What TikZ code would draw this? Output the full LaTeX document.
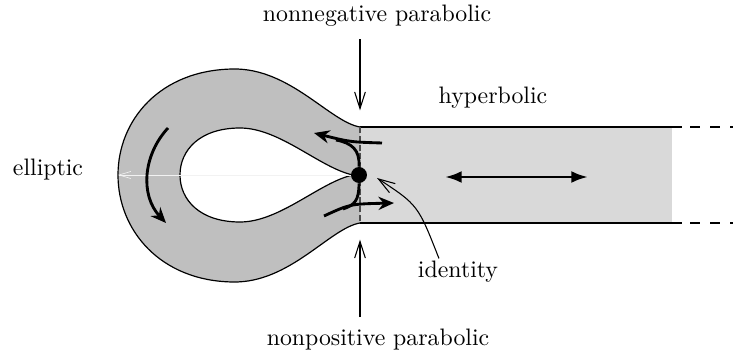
\documentclass[tikz,border=0pt]{standalone}
\usepackage{tikz}
\usetikzlibrary{arrows.meta}

\tikzset{
  thinarrow/.style={line width=0.45pt,-{Straight Barb[length=7pt,width=4.5pt]}},
  flowline/.style={line width=1.2pt},
  flowarrow/.style={line width=1.2pt,-{Stealth[length=6.5pt,width=5.5pt]}},
  lbl/.style={inner sep=1pt}
}

\begin{document}
\begin{tikzpicture}[x=0.42pt,y=0.42pt,yscale=-1,xscale=1]
\useasboundingbox (0,0) rectangle (733,356);
%Shape: hyperbolic strip
\fill [black!15] (360,127) rectangle (672,223) ;
%Shape: elliptic loop
\fill [black!25, even odd rule] (360,127) .. controls (330,122) and (290,68) .. (233,69) .. controls (160,70) and (118,120) .. (118,175) .. controls (118,230) and (160,281) .. (233,282) .. controls (290,283) and (330,228) .. (360,223) -- cycle
  (353,175) .. controls (320,168) and (280,128) .. (240,128) .. controls (200,128) and (180,150) .. (180,175) .. controls (180,200) and (200,222) .. (240,222) .. controls (280,222) and (320,182) .. (353,175) -- cycle ;
%Curve Lines
\draw [line width=0.5pt] (360,127) .. controls (330,122) and (290,68) .. (233,69) .. controls (160,70) and (118,120) .. (118,175) .. controls (118,230) and (160,281) .. (233,282) .. controls (290,283) and (330,228) .. (360,223) ;
%Curve Lines
\draw [line width=0.5pt] (353,175) .. controls (320,168) and (280,128) .. (240,128) .. controls (200,128) and (180,150) .. (180,175) .. controls (180,200) and (200,222) .. (240,222) .. controls (280,222) and (320,182) .. (353,175) ;
%Straight Lines
\coordinate (ntop) at (360,127) ;
\coordinate (nbot) at (360,223) ;
\draw [line width=0.5pt] (ntop) -- (682,127) ;
\draw [line width=0.5pt] (nbot) -- (682,223) ;
\draw [line width=0.5pt, dash pattern={on 4.2pt off 4.2pt}] (690,127) -- (733,127) ;
\draw [line width=0.5pt, dash pattern={on 4.2pt off 4.2pt}] (690,223) -- (733,223) ;
\draw [black!70, line width=0.5pt, dash pattern={on 2.5pt off 1.2pt}] (ntop) -- (nbot) ;
% Identity point
\node [circle, fill=black, inner sep=0pt, minimum size=6.7pt] (dot) at (359,175) {} ;
%faint line
\draw [black!5, line width=0.25pt, -{Straight Barb[length=5pt,width=3pt]}] (dot) -- (118,175) ;
%Flow arrows
\draw [flowarrow] (382,143) .. controls (350,142) .. (314,133) ;
\draw [flowline] (dot.north) .. controls (360,150) and (352,143) .. (336,140) ;
\draw [flowarrow] (324,216) .. controls (350,204) .. (394,203) ;
\draw [flowline] (dot.south) .. controls (359,200) and (355,205) .. (343,209) ;
\draw [flowarrow] (168,128) .. controls (143,155) and (140,195) .. (166,223) ;
\draw [flowline, {Latex[length=7pt,width=5pt]}-{Latex[length=7pt,width=5pt]}] (445,177) -- (588,177) ;
% Text Node
\node [lbl] (nneg) at (377,16) {nonnegative parabolic} ;
% Text Node
\node [lbl] (npos) at (378,340) {nonpositive parabolic} ;
% Text Node
\node [lbl] (hyp) at (493,98) {hyperbolic} ;
% Text Node
\node [lbl] (ell) at (48,170) {elliptic} ;
% Text Node
\node [lbl] (id) at (458,272) {identity} ;
%Label arrows
\draw [thinarrow, shorten <=4pt] (nneg.south -| ntop) -- ([yshift=-7pt]ntop) ;
\draw [thinarrow, shorten <=4pt] (npos.north -| nbot) -- ([yshift=7pt]nbot) ;
\draw [thinarrow] ([xshift=-8pt]id.north) .. controls (418,205) .. (377,178) ;
\end{tikzpicture}
\end{document}
